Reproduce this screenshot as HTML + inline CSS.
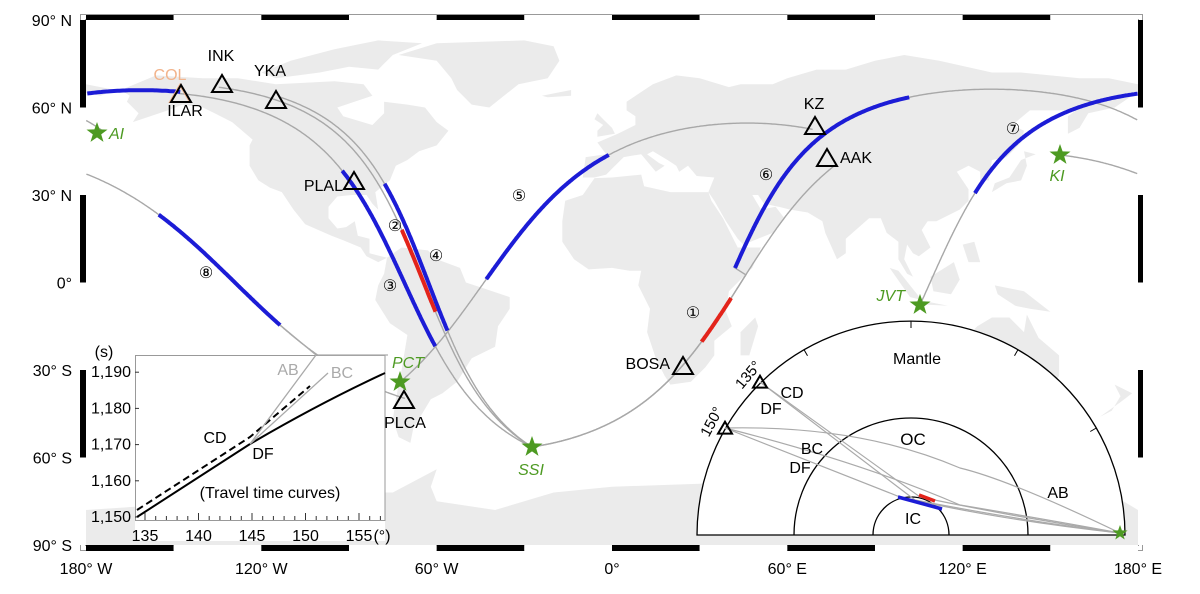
<!DOCTYPE html>
<html><head><meta charset="utf-8"><style>
body{margin:0;background:#fff;width:1200px;height:594px;overflow:hidden}
svg{display:block}
text{font-family:"Liberation Sans",sans-serif}
</style></head><body>
<svg id="s" width="1200" height="594" viewBox="0 0 1200 594" xmlns="http://www.w3.org/2000/svg">
<defs><clipPath id="mc"><rect x="86" y="20" width="1052" height="525"/></clipPath></defs>
<rect x="86" y="20" width="1052" height="525" fill="#fff"/>
<g id="land" clip-path="url(#mc)" fill="#ebebeb"></g>
<g id="paths" clip-path="url(#mc)" fill="none"></g>
<g id="cpaths" clip-path="url(#mc)" fill="none"></g>
<g id="frame"></g>
<g id="labels" font-size="16"></g>
</svg>
<script>
const S=document.getElementById('s');
const NS='http://www.w3.org/2000/svg';
function el(t,a,p,txt){const e=document.createElementNS(NS,t);for(const k in a)e.setAttribute(k,a[k]);if(txt!==undefined)e.textContent=txt;(p||S).appendChild(e);return e;}
const X=lon=>86+(lon+180)*2.9222, Y=lat=>20+(90-lat)*2.9167;
const LON=x=>(x-86)/2.9222-180, LAT=y=>90-(y-20)/2.9167;
const land=[
[[-168,66],[-156,71],[-140,70],[-128,70],[-115,68],[-95,69],[-85,68],[-82,64],[-94,60],[-92,57],[-82,54],[-78,58],[-78,62],[-70,61],[-64,60],[-60,55],[-56,52],[-60,47],[-66,45],[-70,42],[-74,40],[-76,35],[-81,31],[-80,25],[-82,27],[-84,30],[-89,30],[-94,29.5],[-97,26],[-97,22],[-94,18.5],[-91,19],[-88,21],[-87,16],[-83,15],[-83,10],[-79,9],[-77,8.5],[-80,7],[-84,9],[-86,12],[-92,14.5],[-96,16],[-105,20],[-109,25],[-113,31],[-117,32.5],[-121,35],[-124,40],[-124,47],[-123,49],[-130,55],[-136,58],[-140,60],[-147,61],[-152,59],[-158,57],[-164,55],[-162,58],[-164,60],[-166,62],[-165,64]],
[[-73,78],[-60,82],[-30,83],[-20,81],[-18,76],[-22,70],[-32,68],[-42,60],[-48,61],[-53,66],[-55,70],[-60,76]],
[[-120,72],[-110,76],[-95,80],[-80,83],[-65,82],[-75,78],[-80,73],[-90,74],[-100,72],[-115,70]],
[[-24,64],[-14,66],[-14,64],[-22,63.5]],
[[-77,8.5],[-72,12],[-63,11],[-60,8],[-52,5],[-50,0],[-44,-2],[-35,-5],[-35,-9],[-39,-15],[-40,-22],[-48,-26],[-53,-34],[-58,-38],[-62,-40],[-65,-45],[-68,-50],[-69,-55],[-73,-53],[-75,-47],[-74,-40],[-72,-30],[-70,-18],[-76,-14],[-81,-6],[-80,-1],[-78,3]],
[[-10,36],[-9,43],[-2,44],[-5,48],[2,51],[8,54],[8,57],[5,59],[5,62],[14,68],[22,71],[30,70],[40,67],[44,68],[55,68],[60,70],[70,73],[80,73],[90,76],[100,78],[112,76],[130,72],[140,72],[150,71],[160,70],[170,70],[180,68],[180,65],[178,64],[172,60],[163,58],[160,53],[156,51],[156,57],[163,62],[155,59],[143,59],[137,54],[141,52],[140,48],[135,43],[130,42],[129,35],[126,35],[126,38],[122,40],[118,38],[122,32],[122,28],[119,25],[111,21],[108,21],[106,18],[109,12],[105,9],[103,10],[101,13],[100,8],[103,2],[104,1.5],[101,3],[98,8],[98,14],[94,17],[92,22],[88,22],[80,15],[80,10],[77,8],[73,17],[72,21],[67,24],[61,25],[57,26],[52,27],[50,30],[48,30],[51,25],[56,26],[59,22],[55,17],[45,13],[43,15],[39,21],[35,28],[33,31],[35,36],[29,36.5],[26,40],[23,38],[22,40],[19,42],[14,45],[12,44],[16,41],[18,40],[15,38],[10,44],[4,43],[0,39],[-2,37],[-6,36]],
[[-180,68],[-170,66],[-175,64],[-180,65]],
[[-17,21],[-16,28],[-10,30],[-6,35.8],[0,36],[10,37],[11,33],[20,31],[30,31],[33,31],[34,28],[38,22],[43,12],[51,12],[48,5],[40,-3],[39,-10],[41,-15],[35,-20],[35,-25],[32,-29],[27,-34],[20,-35],[18,-32],[15,-26],[12,-17],[13,-9],[9,-1],[10,4],[6,4],[0,5],[-8,4.5],[-13,8],[-17,14]],
[[44,-25],[47,-25],[50,-15],[49,-12],[44,-17]],
[[114,-22],[114,-34],[118,-35],[124,-34],[132,-32],[138,-35],[141,-38],[150,-37.5],[153,-32],[153,-25],[146,-19],[142,-11],[141,-17],[136,-12],[130,-12],[125,-15],[122,-18]],
[[95,5],[98,4],[106,-6],[102,-5]],[[109,2],[117,7],[119,1],[116,-4],[110,-3]],[[105,-6],[115,-8],[106,-7.5]],
[[131,-1],[141,-3],[150,-10],[143,-9],[138,-8],[132,-4]],
[[130,31],[135,34],[140,35],[142,40],[141,45],[145,44],[140,42],[136,36],[131,34]],
[[172,-35],[178,-38],[174,-41],[167,-46],[171,-44],[174,-39]],
[[-5,50],[1,51],[0,53],[-3,56],[-5,58],[-6,56],[-3,54],[-5,52]],
[[120,13],[124,14],[126,7],[122,7]],
[[-180,-78],[-150,-76],[-120,-73],[-100,-72],[-75,-72],[-60,-64],[-62,-70],[-60,-75],[-40,-78],[-20,-72],[0,-70],[30,-69],[60,-67],[90,-66],[120,-66],[150,-68],[170,-72],[180,-78],[180,-90],[-180,-90]]
];
const LG=document.getElementById('land');
land.forEach(p=>el('polygon',{points:p.map(q=>X(q[0]).toFixed(1)+','+Y(q[1]).toFixed(1)).join(' ')},LG));
const R=Math.PI/180;
function v(lon,lat){return [Math.cos(lat*R)*Math.cos(lon*R),Math.cos(lat*R)*Math.sin(lon*R),Math.sin(lat*R)];}
const cr=(a,b)=>[a[1]*b[2]-a[2]*b[1],a[2]*b[0]-a[0]*b[2],a[0]*b[1]-a[1]*b[0]];
const dt=(a,b)=>a[0]*b[0]+a[1]*b[1]+a[2]*b[2];
const nz=a=>{const l=Math.hypot(...a);return a.map(c=>c/l)};
function gc(A,W,B){const a=v(...A),w=v(...W),b=v(...B);const n=nz(cr(a,w));const t=cr(n,a);
 let th=Math.atan2(dt(b,t),dt(b,a));if(th<0)th+=2*Math.PI;const pts=[];const N=400;
 for(let i=0;i<=N;i++){const s=th*i/N;const p=[a[0]*Math.cos(s)+t[0]*Math.sin(s),a[1]*Math.cos(s)+t[1]*Math.sin(s),a[2]*Math.cos(s)+t[2]*Math.sin(s)];
  const lon=Math.atan2(p[1],p[0])/R,lat=Math.asin(Math.max(-1,Math.min(1,p[2])))/R;pts.push([X(lon),Y(lat)]);}
 return pts;}
function dpath(pts,i0,i1){let d='';for(let i=i0;i<=i1;i++){const p=pts[i];const brk=i==i0||Math.abs(p[0]-pts[i-1][0])>500;d+=(brk?'M':'L')+p[0].toFixed(1)+' '+p[1].toFixed(1);}return d;}
function near(pts,x,y){let bi=0,bd=1e9;pts.forEach((p,i)=>{const d=(p[0]-x)**2+(p[1]-y)**2;if(d<bd){bd=d;bi=i}});return bi;}
const P=(x,y)=>[LON(x),LAT(y)];
const SSI=[-27.4,-56.4],PCT=[-72.5,-34.1],PLCA=[-71.2,-40.3],ILAR=[-147.8,65.3],INK=[-133.5,68.1],YKA=[-115,62.6],PLAL=[-88.3,35.1],KZ=[69.5,54],AAK=[73.6,43],BOSA=[24.3,-28.3],AI=[-176.2,51.3],KI=[153.3,43.7],JVT=[105.4,-7.7];
const G=document.getElementById('paths'),CG=document.getElementById('cpaths');
const M6=P(735,268);
const defs=[
 [()=>gc(SSI,BOSA,AAK),[['#e3241b',693,335,722,292]]],
 [()=>gc(SSI,P(419,271),INK),[['#e3241b',402,230,436,312]]],
 [()=>gc(SSI,P(392,256),ILAR),[['#1c1cd6',343,170,440,343]]],
 [()=>gc(SSI,P(418,256),YKA),[['#1c1cd6',387,182,450,330]]],
 [()=>gc(PCT,P(540,210),KZ),[['#1c1cd6',480,275,605,148]]],
 [()=>gc(SSI,BOSA,M6).concat(gc(M6,P(823,135),AI)),[['#1c1cd6',735,268,910,98]]],
 [()=>gc(JVT,P(975,193),ILAR),[['#1c1cd6',975,193,207,96]]],
 [()=>gc(KI,P(220,268),PLCA),[['#1c1cd6',160,212,280,325]]]
];
defs.forEach(d=>{const pts=d[0]();el('path',{d:dpath(pts,0,pts.length-1),stroke:'#a8a8a8','stroke-width':1.4},G);
 d[1].forEach(s=>{let i0=near(pts,s[1],s[2]),i1=near(pts,s[3],s[4]);if(i0>i1)[i0,i1]=[i1,i0];el('path',{d:dpath(pts,i0,i1),stroke:s[0],'stroke-width':4},CG);});});
const F=document.getElementById('frame');
el('rect',{x:80.5,y:14.5,width:1062,height:536,fill:'none',stroke:'#999','stroke-width':1},F);
el('rect',{x:85.5,y:19.5,width:1053,height:526,fill:'none',stroke:'#999','stroke-width':1},F);
for(let i=0;i<12;i++){const x0=X(-180+30*i),x1=X(-150+30*i);const c=i%2?'#fff':'#000';
 el('rect',{x:x0,y:15,width:x1-x0,height:5,fill:c},F);el('rect',{x:x0,y:545,width:x1-x0,height:6,fill:c},F);}
for(let i=0;i<6;i++){const y0=Y(90-30*i),y1=Y(60-30*i);const c=i%2?'#fff':'#000';
 el('rect',{x:80,y:y0,width:6,height:y1-y0,fill:c},F);el('rect',{x:1138,y:y0,width:5,height:y1-y0,fill:c},F);}
const L=document.getElementById('labels');
['90° N','60° N','30° N','0°','30° S','60° S','90° S'].forEach((t,i)=>el('text',{x:72,y:Y(90-30*i)+6,'text-anchor':'end'},L,t));
['180° W','120° W','60° W','0°','60° E','120° E','180° E'].forEach((t,i)=>el('text',{x:X(-180+60*i),y:574,'text-anchor':'middle'},L,t));
function tri(x,y,c,s){s=s||1;el('polygon',{points:`${x-10*s},${y+8*s} ${x+10*s},${y+8*s} ${x},${y-9*s}`,fill:'none',stroke:c||'#000','stroke-width':2},L);}
function star(x,y,r){let p='';for(let i=0;i<10;i++){const rr=i%2?r*0.4:r;const a=-Math.PI/2+i*Math.PI/5;p+=(x+rr*Math.cos(a)).toFixed(1)+','+(y+rr*Math.sin(a)).toFixed(1)+' ';}el('polygon',{points:p,fill:'#4d9a22'},L);}
const T=(x,y,t,o)=>{const a=Object.assign({x:x,y:y},o||{});return el('text',a,L,t);};
tri(180,94,'#f2b48c');tri(181,94);tri(222,84);tri(276,100);tri(354,181);tri(404,400);tri(683,366);tri(815,126);tri(827,158);
T(221,61,'INK',{'text-anchor':'middle'});T(270,76,'YKA',{'text-anchor':'middle'});T(170,80,'COL',{'text-anchor':'middle',fill:'#f2b48c'});
T(185,116,'ILAR',{'text-anchor':'middle'});T(343,191,'PLAL',{'text-anchor':'end'});T(405,428,'PLCA',{'text-anchor':'middle'});
T(670,369,'BOSA',{'text-anchor':'end'});T(814,109,'KZ',{'text-anchor':'middle'});T(840,163,'AAK');
star(97,133,11);star(1060,155,11);star(920,305,11);star(400,382,11);star(532,447,11);
const gi={fill:'#4d9a22','font-style':'italic'};
T(109,139,'AI',gi);T(1057,181,'KI',Object.assign({'text-anchor':'middle'},gi));T(905,301,'JVT',Object.assign({'text-anchor':'end'},gi));
T(408,368,'PCT',Object.assign({'text-anchor':'middle'},gi));T(531,475,'SSI',Object.assign({'text-anchor':'middle'},gi));
[['①',693,318],['②',395,231],['③',390,291],['④',436,261],['⑤',519,201],['⑥',766,180],['⑦',1013,134],['⑧',206,278]].forEach(c=>T(c[1],c[2],c[0],{'text-anchor':'middle','font-size':16}));
el('rect',{x:135,y:355,width:250,height:186,fill:'#fff'},L);
el('rect',{x:135.5,y:355.5,width:249.5,height:165,fill:'none',stroke:'#999','stroke-width':1},L);
const ix=d=>145+(d-135)*10.7, iy=t=>517-(t-1150)*3.62;
for(let d=135;d<=157;d++){const x=ix(d);el('line',{x1:x,y1:520,x2:x,y2:d%5?516:513,stroke:'#333','stroke-width':1},L);}
[135,140,145,150,155].forEach(d=>T(ix(d),541,String(d),{'text-anchor':'middle'}));T(382,541,'(°)',{'text-anchor':'middle'});
[1150,1160,1170,1180,1190].forEach(t=>{el('line',{x1:135,y1:iy(t),x2:139,y2:iy(t),stroke:'#333'},L);T(131,iy(t)+5,t.toLocaleString('en-US'),{'text-anchor':'end'});});
T(104,357,'(s)',{'text-anchor':'middle'});
el('path',{d:'M137 517 L250 444 Q320 403 385 373',fill:'none',stroke:'#000','stroke-width':2},L);
el('path',{d:'M137 510 L250 437 L310 386',fill:'none',stroke:'#000','stroke-width':2,'stroke-dasharray':'7 4'},L);
el('path',{d:'M250 444 L316 355 M280 325 L316 355 L388 355',fill:'none',stroke:'#aaa','stroke-width':1.3},L);
el('path',{d:'M250 444 L328 373',fill:'none',stroke:'#aaa','stroke-width':1.3},L);
T(288,375,'AB',{'text-anchor':'middle',fill:'#aaa'});T(342,378,'BC',{'text-anchor':'middle',fill:'#aaa'});
T(215,443,'CD',{'text-anchor':'middle'});T(263,459,'DF',{'text-anchor':'middle'});T(270,498,'(Travel time curves)',{'text-anchor':'middle'});
const cx=911,cy=535;
el('path',{d:`M697 535 A214 214 0 0 1 1125 535 Z`,fill:'#fff',stroke:'#000','stroke-width':1.3},L);
el('path',{d:`M794 535 A117 117 0 0 1 1028 535`,fill:'none',stroke:'#000','stroke-width':1.3},L);
el('path',{d:`M873 535 A38 38 0 0 1 949 535`,fill:'none',stroke:'#000','stroke-width':1.3},L);
[30,60,90,120].forEach(a=>{const c=Math.cos(a*R),s=Math.sin(a*R);el('line',{x1:cx+214*c,y1:cy-214*s,x2:cx+207*c,y2:cy-207*s,stroke:'#000'},L);});
const gr={fill:'none',stroke:'#aaa','stroke-width':1.2};
el('path',Object.assign({d:'M725 428 Q860 425 960 468 Q1010 480 1120 533'},gr),L);
el('path',Object.assign({d:'M725 428 Q860 462 960 505 Q1050 520 1120 533'},gr),L);
el('path',Object.assign({d:'M725 428 L900 497 Q1000 520 1120 533'},gr),L);
el('path',Object.assign({d:'M760 382 L920 497 Q1020 518 1120 533'},gr),L);
el('path',Object.assign({d:'M760 382 L915 500 Q1030 522 1120 533'},gr),L);
el('path',{d:'M898 497 L942 509',stroke:'#1c1cd6','stroke-width':3.5,fill:'none'},L);
el('path',{d:'M919 495 L935 501',stroke:'#e3241b','stroke-width':3.5,fill:'none'},L);
tri(760,382,'#000',0.7);tri(725,428,'#000',0.7);star(1120,533,8);
T(917,364,'Mantle',{'text-anchor':'middle'});T(913,445,'OC',{'text-anchor':'middle','font-size':17});T(913,524,'IC',{'text-anchor':'middle'});
T(1058,498,'AB',{'text-anchor':'middle'});T(812,454,'BC',{'text-anchor':'middle'});T(800,473,'DF',{'text-anchor':'middle'});
T(792,398,'CD',{'text-anchor':'middle'});T(771,414,'DF',{'text-anchor':'middle'});
T(0,0,'135°',{transform:'translate(752,378) rotate(-50)','text-anchor':'middle','font-size':15});
T(0,0,'150°',{transform:'translate(716,424) rotate(-62)','text-anchor':'middle','font-size':15});
</script>
</body></html>
